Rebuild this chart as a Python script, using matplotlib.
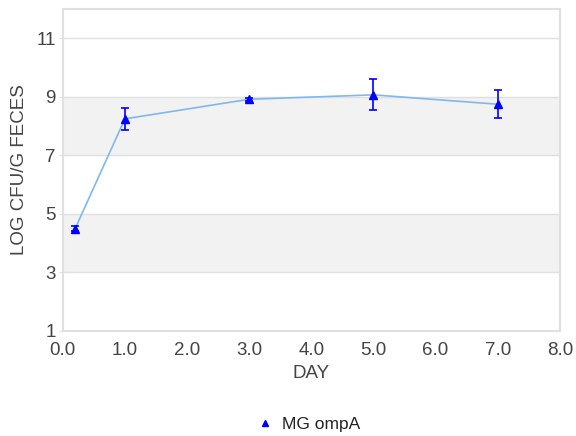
import matplotlib
matplotlib.use("Agg")
import matplotlib.pyplot as plt
from matplotlib.lines import Line2D
from matplotlib.ticker import FormatStrFormatter

plt.rcParams['font.family'] = ['Liberation Sans', 'DejaVu Sans']

# Fecal shedding of MG ompA over time
days = [0.2, 1.0, 3.0, 5.0, 7.0]
log_cfu = [4.5, 8.25, 8.92, 9.07, 8.75]
err = [0.1, 0.37, 0.05, 0.53, 0.47]
series_name = "MG ompA"

x_ticks = [0, 1, 2, 3, 4, 5, 6, 7, 8]
y_ticks = [1, 3, 5, 7, 9, 11]
bands = [(3, 5), (7, 9)]

text_color = '#444444'
grid_color = '#e0e0e0'
marker_color = '#0000ff'

fig = plt.figure(figsize=(5.76, 4.36), dpi=100)
ax = fig.add_axes([0.109, 0.241, 0.863, 0.738])

for lo, hi in bands:
    ax.axhspan(lo, hi, color='#f2f2f2', zorder=0, lw=0)

ax.plot(days, log_cfu, color='#7fb8f0', lw=1.2, zorder=2)
ax.errorbar(days, log_cfu, yerr=err, fmt='^', color=marker_color, ms=6,
            ecolor=marker_color, elinewidth=1.2, capsize=3, capthick=1.2,
            zorder=3)

ax.set_xlim(0, 8)
ax.set_ylim(1, 12)
ax.set_xticks(x_ticks)
ax.set_yticks(y_ticks)
ax.xaxis.set_major_formatter(FormatStrFormatter('%.1f'))
ax.grid(axis='y', color=grid_color, lw=1, zorder=1)
ax.set_axisbelow(True)

for s in ax.spines.values():
    s.set_color(grid_color)
    s.set_linewidth(1.5)

ax.tick_params(axis='y', colors=grid_color, labelcolor=text_color,
               labelsize=13.5, length=3, pad=2)
ax.tick_params(axis='x', length=0, labelcolor=text_color,
               labelsize=13.5, pad=8)

ax.set_xlabel('DAY', color=text_color, fontsize=13.5, labelpad=4)
ax.set_ylabel('LOG CFU/G FECES', color=text_color, fontsize=13.5, labelpad=6)

handle = Line2D([], [], linestyle='none', marker='^', color=marker_color,
                markersize=5)
leg = fig.legend([handle], [series_name], loc='center',
                 bbox_to_anchor=(0.535, 0.027), frameon=False,
                 fontsize=12.5, handletextpad=0.5, handlelength=1.0)
for t in leg.get_texts():
    t.set_color('#222222')

fig.savefig('out.png', dpi=100)
